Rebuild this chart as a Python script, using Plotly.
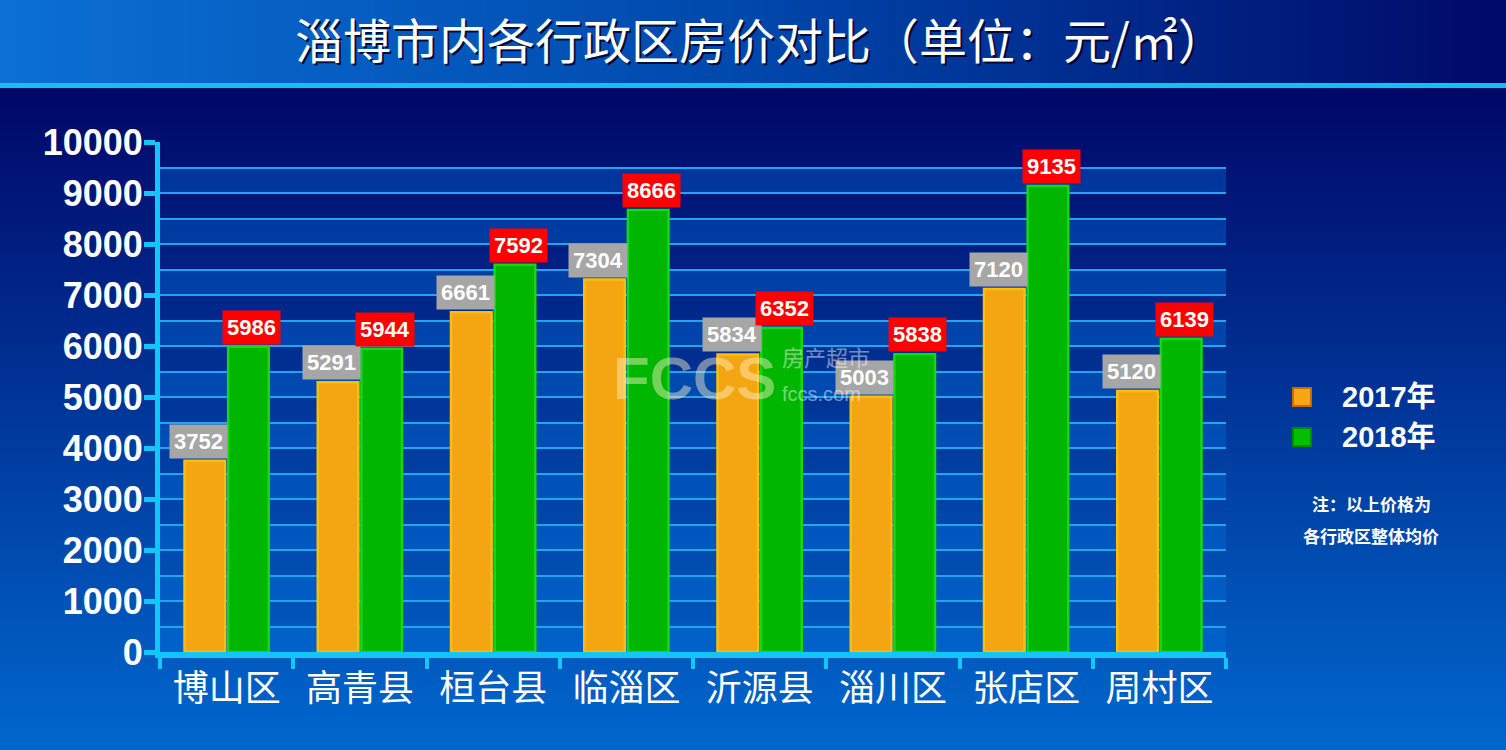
import base64, struct, zlib
import numpy as np
import plotly.graph_objects as go

# ---------------- data ----------------
districts = ["博山区", "高青县", "桓台县", "临淄区", "沂源县", "淄川区", "张店区", "周村区"]
series_names = ["2017年", "2018年"]
prices_2017 = [3752, 5291, 6661, 7304, 5834, 5003, 7120, 5120]
prices_2018 = [5986, 5944, 7592, 8666, 6352, 5838, 9135, 6139]
y_ticks = [0, 1000, 2000, 3000, 4000, 5000, 6000, 7000, 8000, 9000, 10000]
y_tick_labels = [str(v) for v in y_ticks]
title_text = "淄博市内各行政区房价对比（单位：元/㎡）"
note_lines = ["注：以上价格为", "各行政区整体均价"]

# ---------------- geometry helpers (figure pixels -> paper) ----------------
W, H = 1506, 750
L, R, T, B = 160, 280, 142, 98
PW, PH = W - L - R, H - T - B


def px(x):
    return (x - L) / PW


def py(y):
    return (H - B - y) / PH


def png_uri(arr):
    arr = np.ascontiguousarray(arr.astype(np.uint8))
    h, w, _ = arr.shape
    raw = b"".join(b"\x00" + arr[r].tobytes() for r in range(h))

    def chunk(t, d):
        return struct.pack(">I", len(d)) + t + d + struct.pack(">I", zlib.crc32(t + d) & 0xFFFFFFFF)

    png = (b"\x89PNG\r\n\x1a\n"
           + chunk(b"IHDR", struct.pack(">IIBBBBB", w, h, 8, 2, 0, 0, 0))
           + chunk(b"IDAT", zlib.compress(raw, 9))
           + chunk(b"IEND", b""))
    return "data:image/png;base64," + base64.b64encode(png).decode()


def gradient(stops, n):
    pos = np.linspace(0, 1, n)
    sp = [s[0] for s in stops]
    return np.stack([np.interp(pos, sp, [s[1][c] for s in stops]) for c in range(3)], axis=-1)


header_img = gradient([(0, (12, 112, 212)), (0.5, (0, 72, 172)), (1, (0, 10, 104))], 256)[None, :, :]
body_img = gradient([(0, (0, 8, 104)), (1, (0, 104, 206))], 256)[:, None, :]

# ---------------- figure ----------------
fig = go.Figure()
fig.add_trace(go.Bar(
    x=districts, y=prices_2017, name=series_names[0],
    marker=dict(color="#F3A512", line=dict(color="#FBBE0C", width=2.5)),
    showlegend=False, hoverinfo="x+y",
))
fig.add_trace(go.Bar(
    x=districts, y=prices_2018, name=series_names[1],
    marker=dict(color="#00B600", line=dict(color="#14D814", width=2.5)),
    showlegend=False, hoverinfo="x+y",
))

images = [
    dict(source=png_uri(header_img), xref="paper", yref="paper",
         x=px(0), y=py(0), sizex=W / PW, sizey=84 / PH,
         sizing="stretch", xanchor="left", yanchor="top", layer="below"),
    dict(source=png_uri(body_img), xref="paper", yref="paper",
         x=px(0), y=py(88), sizex=W / PW, sizey=(H - 88) / PH,
         sizing="stretch", xanchor="left", yanchor="top", layer="below"),
]

shapes = [
    # cyan separator under the header
    dict(type="rect", xref="paper", yref="paper", x0=px(0), x1=px(W), y0=py(88), y1=py(83),
         fillcolor="#14BFF2", line=dict(width=0), layer="below"),
]
# alternating light bands in the plot area
for lo in y_ticks[:-1]:
    shapes.append(dict(type="rect", xref="paper", yref="y", x0=0, x1=1, y0=lo, y1=lo + 500,
                       fillcolor="rgba(0,110,220,0.38)", line=dict(width=0), layer="below"))

# manual legend squares
leg_y = [397, 437]
leg_fill = ["#F5A814", "#00C000"]
leg_line = ["#C86A00", "#008A00"]
for yc, fc, lc in zip(leg_y, leg_fill, leg_line):
    shapes.append(dict(type="rect", xref="paper", yref="paper",
                       x0=px(1293), x1=px(1311), y0=py(yc + 9), y1=py(yc - 9),
                       fillcolor=fc, line=dict(color=lc, width=2)))

annotations = []
# title with shadow
for dx, dy, col in [(2, -2, "rgba(0,0,40,0.85)"), (0, 0, "white")]:
    annotations.append(dict(text=title_text, xref="paper", yref="paper", x=px(760), y=py(38),
                            xshift=dx, yshift=dy, xanchor="center", yanchor="middle", showarrow=False,
                            font=dict(family="Noto Sans CJK SC", size=48, color=col)))

# value labels
for cat, v in zip(districts, prices_2017):
    annotations.append(dict(text=f"<b>{v}</b>", x=cat, y=v, xref="x", yref="y",
                            xshift=-28, yshift=2, yanchor="bottom", showarrow=False,
                            bgcolor="#A6A6A6", borderpad=4,
                            font=dict(family="Liberation Sans, Arial", size=22, color="white")))
for cat, v in zip(districts, prices_2018):
    annotations.append(dict(text=f"<b>{v}</b>", x=cat, y=v, xref="x", yref="y",
                            xshift=25, yshift=2, yanchor="bottom", showarrow=False,
                            bgcolor="#FF0000", borderpad=4,
                            font=dict(family="Liberation Sans, Arial", size=22, color="white")))

# legend texts
for yc, name in zip(leg_y, series_names):
    annotations.append(dict(text=f"<b>{name}</b>", xref="paper", yref="paper", x=px(1340), y=py(yc),
                            xanchor="left", yanchor="middle", showarrow=False,
                            font=dict(family="Liberation Sans, Noto Sans CJK SC", size=29, color="white")))

# note
for yc, line in zip([504, 535], note_lines):
    annotations.append(dict(text=f"<b>{line}</b>", xref="paper", yref="paper", x=px(1371), y=py(yc),
                            xanchor="center", yanchor="middle", showarrow=False,
                            font=dict(family="Noto Sans CJK SC", size=17, color="white")))

# watermark
annotations.append(dict(text="<b>FCCS</b>", xref="paper", yref="paper", x=px(694), y=py(378),
                        xanchor="center", yanchor="middle", showarrow=False, opacity=0.45,
                        font=dict(family="Liberation Sans", size=60, color="#FFF4C8")))
annotations.append(dict(text="房产超市", xref="paper", yref="paper", x=px(780), y=py(356),
                        xanchor="left", yanchor="middle", showarrow=False, opacity=0.45,
                        font=dict(family="Noto Sans CJK SC", size=22, color="white")))
annotations.append(dict(text="fccs.com", xref="paper", yref="paper", x=px(780), y=py(394),
                        xanchor="left", yanchor="middle", showarrow=False, opacity=0.45,
                        font=dict(family="Liberation Sans", size=20, color="white")))

fig.update_layout(
    width=W, height=H,
    margin=dict(l=L, r=R, t=T, b=B, pad=0),
    paper_bgcolor="#00127A",
    plot_bgcolor="rgba(0,0,0,0)",
    barmode="group", bargap=0.345, bargroupgap=0.07,
    images=images, shapes=shapes, annotations=annotations,
    showlegend=False,
    xaxis=dict(
        type="category", range=[-0.5, len(districts) - 0.5],
        showline=True, linecolor="#12C6F8", linewidth=6,
        ticks="outside", tickson="boundaries", ticklen=11, tickwidth=4, tickcolor="#12C6F8",
        showgrid=False, zeroline=False,
        tickfont=dict(family="Noto Sans CJK SC", size=36, color="white"),
    ),
    yaxis=dict(
        range=[0, 10000], tickvals=y_ticks, ticktext=y_tick_labels,
        showline=True, linecolor="#12C6F8", linewidth=5,
        ticks="outside", ticklen=11, tickwidth=5, tickcolor="#12C6F8",
        showgrid=True, gridcolor="#1FA6EE", gridwidth=2, zeroline=False,
        minor=dict(dtick=500, showgrid=True, gridcolor="#1FA6EE", gridwidth=2, ticks=""),
        tickfont=dict(family="Liberation Sans, Arial", size=36, color="white", weight="bold"),
        ticklabelstandoff=-6,
    ),
)

fig.write_html(
    "out.html",
    config={"displayModeBar": False},
    post_script="document.body.style.margin='0';document.body.style.overflow='hidden';",
)
